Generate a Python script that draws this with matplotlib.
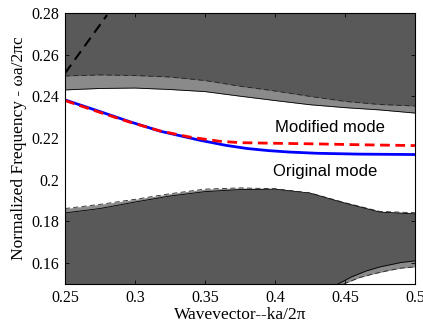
import matplotlib
matplotlib.use("Agg")
import matplotlib.pyplot as plt
import numpy as np

# ---- data ----
band_k = [0.25, 0.275, 0.30, 0.325, 0.35, 0.375, 0.40, 0.425, 0.45, 0.475, 0.5]
upper_dashed = [0.2498, 0.2503, 0.2500, 0.2493, 0.2476, 0.2449, 0.2426, 0.2400, 0.2376, 0.2361, 0.2354]
upper_solid = [0.2431, 0.2438, 0.2440, 0.2433, 0.2423, 0.2401, 0.2380, 0.2360, 0.2346, 0.2335, 0.2320]
lower_solid = [0.1841, 0.1862, 0.1893, 0.1922, 0.1943, 0.1953, 0.1955, 0.1936, 0.1888, 0.1845, 0.1836]
lower_dashed = [0.1862, 0.1882, 0.1906, 0.1933, 0.1955, 0.1961, 0.1957, 0.1937, 0.1890, 0.1848, 0.1842]

pocket_solid_k = [0.445, 0.455, 0.465, 0.475, 0.49, 0.5]
pocket_solid = [0.150, 0.1535, 0.1562, 0.1582, 0.1603, 0.1611]
pocket_dashed_k = [0.449, 0.46, 0.47, 0.48, 0.49, 0.5]
pocket_dashed = [0.150, 0.1530, 0.1548, 0.1563, 0.1576, 0.1582]

light_k = [0.25, 0.28]
light_w = [0.2511, 0.2790]

orig_k = [0.25, 0.275, 0.296, 0.318, 0.346, 0.365, 0.38, 0.395, 0.41, 0.43, 0.46, 0.5]
orig_w = [0.2383, 0.2327, 0.2279, 0.2233, 0.2190, 0.2165, 0.2150, 0.2140, 0.2133, 0.2127, 0.2123, 0.2121]
mod_k = [0.25, 0.275, 0.296, 0.318, 0.339, 0.36, 0.375, 0.40, 0.43, 0.46, 0.5]
mod_w = [0.2380, 0.2323, 0.2277, 0.2234, 0.2205, 0.2185, 0.2178, 0.2175, 0.2172, 0.2168, 0.2164]

xticks = [0.25, 0.3, 0.35, 0.4, 0.45, 0.5]
xticklabels = ["0.25", "0.3", "0.35", "0.4", "0.45", "0.5"]
yticks = [0.16, 0.18, 0.2, 0.22, 0.24, 0.26, 0.28]
yticklabels = ["0.16", "0.18", "0.2", "0.22", "0.24", "0.26", "0.28"]

dark = "#595959"
light = "#8a8a8a"
ylo, yhi = 0.15, 0.28

fig = plt.figure(figsize=(4.23, 3.24), dpi=100)
ax = fig.add_axes([0.1537, 0.1235, 0.981 - 0.1537, 0.9599 - 0.1235])
ax.set_facecolor(dark)

# light gray between outer edges, white gap between inner edges
ax.fill_between(band_k, lower_solid, upper_dashed, color=light, lw=0, zorder=1)
ax.fill_between(band_k, lower_dashed, upper_solid, color="white", lw=0, zorder=2)
ax.fill_between(pocket_solid_k, ylo - 0.01, pocket_solid, color=light, lw=0, zorder=1)
ax.fill_between(pocket_dashed_k, ylo - 0.01, pocket_dashed, color="white", lw=0, zorder=2)

edge_kw = dict(color="black", lw=0.6, zorder=3)
dash_kw = dict(color="#222222", lw=0.6, zorder=3, ls=(0, (6, 4)))
ax.plot(band_k, upper_solid, **edge_kw)
ax.plot(band_k, lower_solid, **edge_kw)
ax.plot(pocket_solid_k, pocket_solid, **edge_kw)
ax.plot(band_k, upper_dashed, **dash_kw)
ax.plot(band_k, lower_dashed, **dash_kw)
ax.plot(pocket_dashed_k, pocket_dashed, **dash_kw)

ax.plot(light_k, light_w, color="black", lw=1.5, ls=(0, (5, 3)), zorder=4)

ax.plot(orig_k, orig_w, color="#0000ff", lw=2, zorder=5)
ax.plot(mod_k, mod_w, color="#ff0000", lw=2, ls=(0, (3.5, 2)), zorder=6)

ax.text(0.439, 0.2250, "Modified mode", family="Liberation Sans", fontsize=12,
        ha="center", va="center", zorder=7)
ax.text(0.436, 0.2040, "Original mode", family="Liberation Sans", fontsize=12,
        ha="center", va="center", zorder=7)

ax.set_xlim(0.25, 0.5)
ax.set_ylim(ylo, yhi)
ax.set_xticks(xticks)
ax.set_xticklabels(xticklabels)
ax.set_yticks(yticks)
ax.set_yticklabels(yticklabels)
ax.tick_params(direction="in", top=True, right=True, length=3, width=0.6,
               labelsize=11.5, pad=4)
for lab in ax.get_xticklabels() + ax.get_yticklabels():
    lab.set_family("Liberation Serif")
for s in ax.spines.values():
    s.set_linewidth(0.8)
    s.set_zorder(10)

ax.set_xlabel("Wavevector--ka/2\u03c0", family="Liberation Serif", fontsize=12.5, labelpad=1)
ax.set_ylabel("Normalized Frequency - \u03c9a/2\u03c0c", family="Liberation Serif", fontsize=12.5, labelpad=3)

fig.savefig("out.png", dpi=100)
